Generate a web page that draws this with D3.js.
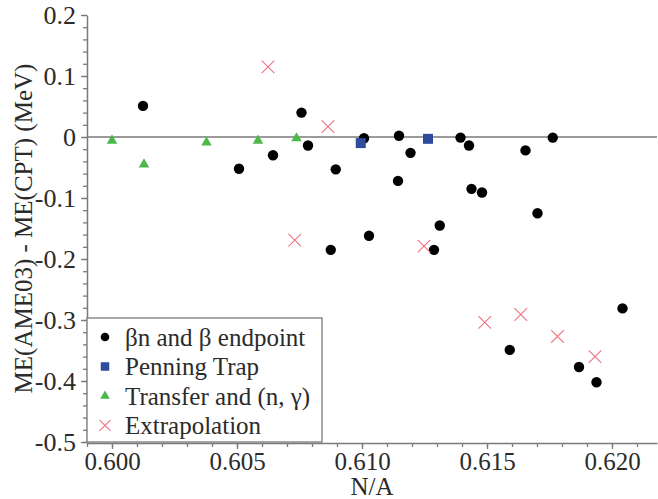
<!DOCTYPE html>
<html>
<head>
<meta charset="utf-8">
<script src="https://cdn.jsdelivr.net/npm/d3@7"></script>
<style>
  html, body { margin: 0; padding: 0; background: #fff; }
  svg { display: block; font-family: "Liberation Serif", "DejaVu Serif", serif; }
</style>
</head>
<body>
<svg id="chart" width="658" height="499"></svg>
<script>
// Mass-excess differences ME(AME03) - ME(CPT) against N/A, by measurement method
const betaNX = [0.60124, 0.60508, 0.60644, 0.60758, 0.60784, 0.60875, 0.60895, 0.61008, 0.61028,
                0.61144, 0.61148, 0.61194, 0.61288, 0.61311, 0.61394, 0.61428, 0.61438, 0.61480,
                0.61591, 0.61654, 0.61702, 0.61763, 0.61868, 0.61938, 0.62042];
const betaNY = [0.051, -0.052, -0.030, 0.040, -0.014, -0.185, -0.053, -0.002, -0.162,
                -0.072, 0.002, -0.026, -0.185, -0.145, -0.001, -0.014, -0.085, -0.091,
                -0.349, -0.022, -0.125, -0.001, -0.377, -0.402, -0.281];

const penningX = [0.60995, 0.61264];
const penningY = [-0.010, -0.003];

const transferX = [0.60000, 0.60128, 0.60378, 0.60584, 0.60738];
const transferY = [-0.006, -0.045, -0.009, -0.006, -0.002];

const extrapX = [0.60624, 0.60731, 0.60864, 0.61248, 0.61491, 0.61635, 0.61782, 0.61932];
const extrapY = [0.115, -0.169, 0.017, -0.179, -0.304, -0.291, -0.327, -0.360];

const xMajorTicks = [0.600, 0.605, 0.610, 0.615, 0.620];
const yMajorTicks = [0.2, 0.1, 0, -0.1, -0.2, -0.3, -0.4, -0.5];
const legendLabels = ["\u03B2n and \u03B2 endpoint", "Penning Trap", "Transfer and (n, \u03B3)", "Extrapolation"];

const xTitle = "N/A";
const yTitle = "ME(AME03) - ME(CPT) (MeV)";

const colors = { beta: "#000000", penning: "#2f4b9e", transfer: "#4cb84a", extrap: "#f2707f" };
const axisColor = "#7a7a7a";
const textColor = "#2b2b2b";

const svg = d3.select("#chart");
const plotLeft = 87, plotRight = 657, plotTop = 15, plotBottom = 442;

const x = d3.scaleLinear().domain([0.599, 0.6218]).range([plotLeft, plotRight]);
const y = d3.scaleLinear().domain([-0.5, 0.2]).range([plotBottom, plotTop]);

// minor ticks every 0.001 on x and 0.02 on y
const xMinor = d3.range(599, 622).map(v => v / 1000);
const yMinor = d3.range(-25, 11).map(v => v / 50);

function styleAxis(g, fontSize) {
  g.select(".domain").attr("stroke", axisColor).attr("stroke-width", 1.5);
  g.selectAll(".tick line").attr("stroke", axisColor).attr("stroke-width", 1.3);
  g.selectAll(".tick text").attr("fill", textColor)
    .style("font-family", "'Liberation Serif', serif").style("font-size", fontSize + "px");
}

// minor x ticks
svg.append("g").attr("transform", `translate(0,${plotBottom + 1})`)
  .call(d3.axisBottom(x).tickValues(xMinor).tickSize(4).tickFormat("").tickSizeOuter(0))
  .call(g => { styleAxis(g, 25); g.select(".domain").remove(); });
// major x axis
svg.append("g").attr("transform", `translate(0,${plotBottom + 1})`)
  .call(d3.axisBottom(x).tickValues(xMajorTicks).tickSize(6).tickSizeOuter(0).tickPadding(3)
    .tickFormat(d3.format(".3f")))
  .call(g => styleAxis(g, 25));

// minor y ticks
svg.append("g").attr("transform", `translate(${plotLeft},0)`)
  .call(d3.axisLeft(y).tickValues(yMinor).tickSize(4).tickFormat("").tickSizeOuter(0))
  .call(g => { styleAxis(g, 26); g.select(".domain").remove(); });
// major y axis
svg.append("g").attr("transform", `translate(${plotLeft},0)`)
  .call(d3.axisLeft(y).tickValues(yMajorTicks).tickSize(6).tickSizeOuter(0).tickPadding(5)
    .tickFormat(d => d === 0 ? "0" : d3.format(".1f")(d).replace("\u2212", "-")))
  .call(g => styleAxis(g, 26));

// zero reference line
svg.append("line")
  .attr("x1", x.range()[0]).attr("x2", x.range()[1])
  .attr("y1", y(0)).attr("y2", y(0))
  .attr("stroke", axisColor).attr("stroke-width", 1.5);

// axis titles
svg.append("text")
  .attr("x", (plotLeft + plotRight) / 2).attr("y", 495)
  .attr("text-anchor", "middle").attr("fill", textColor)
  .style("font-size", "25px").text(xTitle);

svg.append("text")
  .attr("transform", `translate(32,${(plotTop + plotBottom) / 2}) rotate(-90)`)
  .attr("text-anchor", "middle").attr("fill", textColor)
  .style("font-size", "25px").text(yTitle);

// marker shapes
const circleSym = d3.symbol().type(d3.symbolCircle).size(Math.PI * 5.2 * 5.2);
const squareSym = d3.symbol().type(d3.symbolSquare).size(10 * 10);
const triSym = d3.symbol().type(d3.symbolTriangle).size(48);
const crossSym = d3.symbol().type(d3.symbolX).size(105);

const plot = svg.append("g");

function drawSeries(xs, ys, sym, color, isCross) {
  plot.append("g").selectAll("path")
    .data(xs.map((v, i) => [v, ys[i]]))
    .join("path")
    .attr("transform", d => `translate(${x(d[0])},${y(d[1])})`)
    .attr("d", sym)
    .attr("fill", isCross ? "none" : color)
    .attr("stroke", isCross ? color : "none")
    .attr("stroke-width", isCross ? 1.1 : 0);
}

drawSeries(betaNX, betaNY, circleSym, colors.beta, false);
drawSeries(penningX, penningY, squareSym, colors.penning, false);
drawSeries(transferX, transferY, triSym, colors.transfer, false);
drawSeries(extrapX, extrapY, crossSym, colors.extrap, true);

// legend
const legend = svg.append("g");
legend.append("rect")
  .attr("x", plotLeft).attr("y", 318).attr("width", 322 - plotLeft).attr("height", plotBottom - 318)
  .attr("fill", "#fff").attr("stroke", axisColor).attr("stroke-width", 1.3);

const legendSyms = [
  { sym: d3.symbol().type(d3.symbolCircle).size(Math.PI * 4.3 * 4.3), color: colors.beta, cross: false },
  { sym: d3.symbol().type(d3.symbolSquare).size(8.5 * 8.5), color: colors.penning, cross: false },
  { sym: d3.symbol().type(d3.symbolTriangle).size(40), color: colors.transfer, cross: false },
  { sym: d3.symbol().type(d3.symbolX).size(80), color: colors.extrap, cross: true }
];
const rowY = i => 337 + i * 29.5;

legendLabels.forEach((label, i) => {
  const s = legendSyms[i];
  legend.append("path")
    .attr("transform", `translate(105,${rowY(i)})`)
    .attr("d", s.sym)
    .attr("fill", s.cross ? "none" : s.color)
    .attr("stroke", s.cross ? s.color : "none")
    .attr("stroke-width", s.cross ? 1.1 : 0);
  legend.append("text")
    .attr("x", 125).attr("y", rowY(i)).attr("dy", "0.35em")
    .attr("fill", textColor).style("font-size", "25px")
    .text(label);
});
</script>
</body>
</html>
